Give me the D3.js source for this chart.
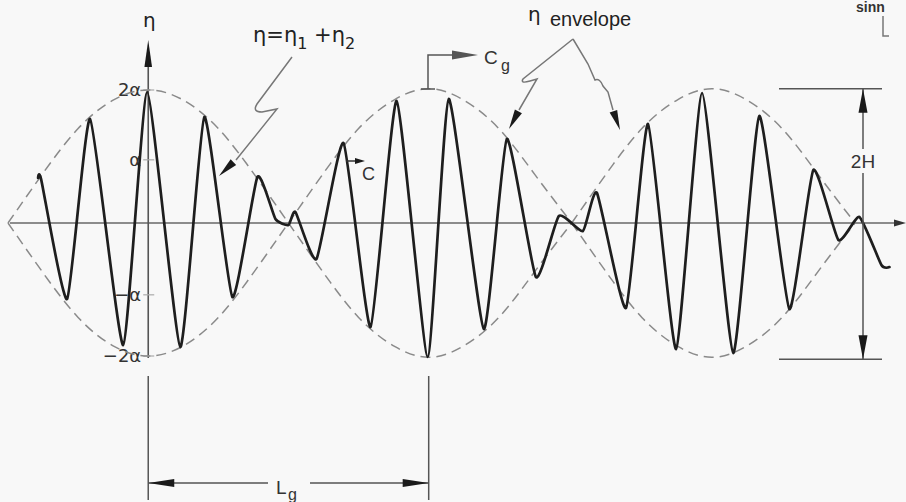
<!DOCTYPE html>
<html>
<head>
<meta charset="utf-8">
<script src="https://cdn.jsdelivr.net/npm/d3@7"></script>
<style>
  body { margin: 0; background: #f8f8f8; }
  svg { display: block; font-family: "Liberation Sans", "DejaVu Sans", sans-serif; }
</style>
</head>
<body>
<div id="chart"></div>
<script>
// wave extrema (x in carrier wavelengths, eta in units of a)
const waveX = [-1.964, -1.91, -1.446, -1.036, -0.446, -0.018, 0.571, 1.000, 1.500, 1.946, 2.268, 2.500, 2.625, 3.000,
  3.482, 3.964, 4.429, 4.982, 5.357, 5.982, 6.393, 6.911, 7.321, 7.750, 8.000, 8.518, 8.911, 9.411, 9.875,
  10.429, 10.893, 11.429, 11.857, 12.304, 12.679, 13.071, 13.214];
const waveEta = [0.677, 0.66, -1.143, 1.564, -1.835, 1.970, -1.865, 1.594, -1.113, 0.692, 0.060, -0.030, 0.165, -0.541,
  1.203, -1.564, 1.835, -2.015, 1.865, -1.594, 1.263, -0.812, 0.105, -0.120, 0.451, -1.278, 1.489, -1.895, 1.955,
  -1.955, 1.609, -1.293, 0.797, -0.256, 0.090, -0.632, -0.662];

// upper envelope, one list per group (lower half is the mirror)
const envLobeX = [
  [-2.5, -1.9, -1.25, -0.6, 0, 0.6, 1.25, 1.9, 2.5],
  [2.5, 3.1, 3.75, 4.4, 5.0, 5.6, 6.25, 6.9, 7.55],
  [7.55, 8.15, 8.8, 9.45, 10.05, 10.65, 11.3, 11.95, 12.6]
];
const envLobeEta = [
  [0, 0.72, 1.42, 1.86, 2.0, 1.86, 1.42, 0.72, 0],
  [0, 0.72, 1.42, 1.86, 2.02, 1.86, 1.42, 0.72, 0],
  [0, 0.72, 1.42, 1.86, 2.02, 1.86, 1.42, 0.72, 0]
];

const tickValues = [2, 0.95, -1.08, -2];
const tickLabels = ["2α", "α", "−α", "−2α"];

const width = 906, height = 502;

const svg = d3.select("#chart").append("svg")
  .attr("width", width)
  .attr("height", height);

svg.append("rect").attr("width", width).attr("height", height).attr("fill", "#f8f8f8");

const x = d3.scaleLinear().domain([-2.5, 12.6]).range([8, 855]);
const y = d3.scaleLinear().domain([-2, 2]).range([356, 90]);

function arrow(tx, ty, dx, dy, len, half, color) {
  // filled arrowhead, tip at (tx,ty), pointing along (dx,dy)
  const bx = tx - dx * len, by = ty - dy * len;
  const px = -dy * half, py = dx * half;
  svg.append("path")
    .attr("d", `M${tx},${ty}L${bx + px},${by + py}L${bx - px},${by - py}Z`)
    .attr("fill", color || "#1a1a1a");
}

// x axis
svg.append("line")
  .attr("x1", x(-2.5) + 2).attr("x2", 900)
  .attr("y1", y(0)).attr("y2", y(0))
  .attr("stroke", "#8c8c8c").attr("stroke-width", 2);
arrow(906, y(0), 1, 0, 12, 3.5, "#333");

// eta axis
svg.append("line")
  .attr("x1", x(0)).attr("x2", x(0))
  .attr("y1", 55).attr("y2", y(-2) + 2)
  .attr("stroke", "#555").attr("stroke-width", 1.6);
arrow(x(0), 40, 0, -1, 27, 3.8);
svg.append("text").attr("x", x(0) + 1).attr("y", 27)
  .attr("text-anchor", "middle").attr("font-family", "DejaVu Sans")
  .attr("font-size", 20).attr("fill", "#222").text("η");

// ticks
tickValues.forEach((v, i) => {
  svg.append("line")
    .attr("x1", x(0) - 5).attr("x2", x(0) + 6)
    .attr("y1", y(v)).attr("y2", y(v))
    .attr("stroke", "#aaa").attr("stroke-width", 1.2);
  svg.append("text")
    .attr("x", x(0) - 7)
    .attr("y", y(v) + 6)
    .attr("text-anchor", "end")
    .attr("font-family", "DejaVu Sans")
    .attr("font-size", 18)
    .attr("fill", "#333")
    .text(tickLabels[i]);
});

// envelope
const envLine = d3.line().x(d => x(d[0])).y(d => y(d[1])).curve(d3.curveNatural);
envLobeX.forEach((xs, i) => {
  [1, -1].forEach(s => {
    svg.append("path")
      .datum(xs.map((v, j) => [v, s * envLobeEta[i][j]]))
      .attr("fill", "none")
      .attr("stroke", "#8a8a8a")
      .attr("stroke-width", 1.5)
      .attr("stroke-dasharray", "10,6")
      .attr("d", envLine);
  });
});

// wave
const waveLine = d3.line()
  .x(d => x(d[0])).y(d => y(d[1]))
  .curve(d3.curveCardinal.tension(0.5));
svg.append("path")
  .datum(waveX.map((v, i) => [v, waveEta[i]]))
  .attr("fill", "none")
  .attr("stroke", "#1e1e1e")
  .attr("stroke-width", 2.7)
  .attr("stroke-linejoin", "round")
  .attr("stroke-linecap", "round")
  .attr("d", waveLine);

// labels and leaders
const lead = (d, c) => svg.append("path").attr("d", d).attr("fill", "none")
  .attr("stroke", c || "#777").attr("stroke-width", 1.5);

const eq = svg.append("text").attr("x", 253).attr("y", 42)
  .attr("font-family", "DejaVu Sans").attr("font-size", 21).attr("fill", "#222");
eq.append("tspan").text("η=η");
eq.append("tspan").attr("dy", 7).attr("font-size", 16).text("1");
eq.append("tspan").attr("dy", -7).text(" +η");
eq.append("tspan").attr("dy", 7).attr("font-size", 16).text("2");

lead("M292,57 L257,104 Q252,112 262,112 L277,109 L236,160");
arrow(219, 176, -0.72, 0.69, 20, 4);

const env = svg.append("text").attr("x", 528).attr("y", 21).attr("fill", "#222");
env.append("tspan").attr("font-family", "DejaVu Sans").attr("font-size", 20).text("η");
env.append("tspan").attr("x", 550).attr("dy", 5).attr("font-size", 20).text("envelope");

lead("M573,39 L523,79 Q520,84 530,81 L537,79 L519,110");
arrow(509, 129, -0.47, 0.88, 20, 4);
lead("M573,39 L588,64 L595,80 Q600,78 603,86 L608,92 L613,110");
arrow(620, 130, 0.33, 0.94, 20, 4);

// group velocity marker
lead("M421,89 L435,89 M428,89 L428,55 L455,55", "#555");
arrow(478, 55, 1, 0, 26, 4.5, "#555");
svg.append("text").attr("x", 484).attr("y", 64).attr("font-size", 19).attr("fill", "#333").text("C");
svg.append("text").attr("x", 501).attr("y", 71).attr("font-size", 16).attr("fill", "#333").text("g");

// phase speed marker
lead("M346,161 L356,161", "#333");
arrow(365, 161, 1, 0, 10, 3);
svg.append("text").attr("x", 362).attr("y", 180).attr("font-size", 18).attr("fill", "#333").text("C");

// 2H dimension
[2.02, -2.05].forEach(v => {
  svg.append("line").attr("x1", 779).attr("x2", 882)
    .attr("y1", y(v)).attr("y2", y(v))
    .attr("stroke", "#555").attr("stroke-width", 1.5);
});
svg.append("line").attr("x1", 863).attr("x2", 863)
  .attr("y1", y(2.02)).attr("y2", y(-2.05))
  .attr("stroke", "#555").attr("stroke-width", 1.5);
arrow(863, y(2.02), 0, -1, 24, 4.5);
arrow(863, y(-2.05), 0, 1, 24, 4.5);
svg.append("rect").attr("x", 844).attr("y", 149).attr("width", 38).attr("height", 24).attr("fill", "#f8f8f8");
svg.append("text").attr("x", 863).attr("y", 168).attr("text-anchor", "middle")
  .attr("font-size", 19).attr("fill", "#333").text("2H");

// Lg dimension
[0, 5].forEach(v => {
  svg.append("line").attr("x1", x(v)).attr("x2", x(v))
    .attr("y1", 376).attr("y2", 500)
    .attr("stroke", "#555").attr("stroke-width", 1.5);
});
svg.append("line").attr("x1", x(0)).attr("x2", 268).attr("y1", 483).attr("y2", 483)
  .attr("stroke", "#555").attr("stroke-width", 1.3);
svg.append("line").attr("x1", 310).attr("x2", x(5)).attr("y1", 483).attr("y2", 483)
  .attr("stroke", "#555").attr("stroke-width", 1.3);
arrow(x(0), 483, -1, 0, 26, 4);
arrow(x(5), 483, 1, 0, 26, 4);
svg.append("text").attr("x", 276).attr("y", 494).attr("font-size", 19).attr("fill", "#333").text("L");
svg.append("text").attr("x", 288).attr("y", 500).attr("font-size", 16).attr("fill", "#333").text("g");

// scrap of the next figure, top right
svg.append("text").attr("x", 856).attr("y", 12).attr("font-size", 14).attr("font-weight", "bold")
  .attr("fill", "#333").text("sinn");
lead("M883,16 L883,36 L889,36", "#777");
</script>
</body>
</html>
